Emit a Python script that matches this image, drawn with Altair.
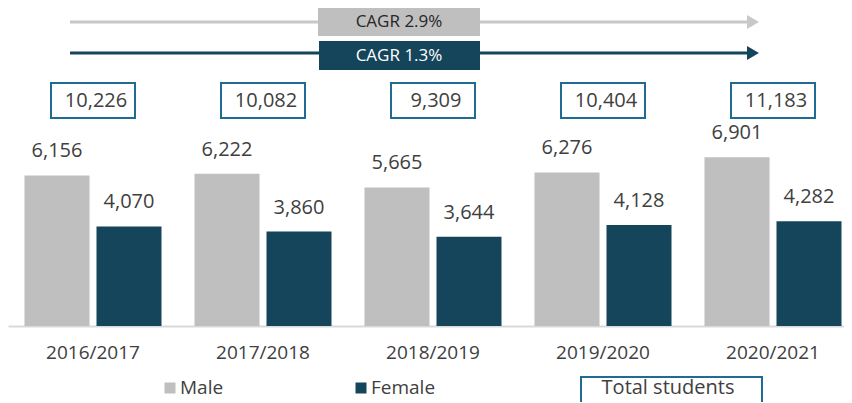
import altair as alt
import pandas as pd

years = ["2016/2017", "2017/2018", "2018/2019", "2019/2020", "2020/2021"]
male = [6156, 6222, 5665, 6276, 6901]
female = [4070, 3860, 3644, 4128, 4282]
total = [10226, 10082, 9309, 10404, 11183]
genders = ["Male", "Female"]
cagr_labels = ["CAGR 2.9%", "CAGR 1.3%"]
legend_labels = ["Male", "Female", "Total students"]

FONT = "Open Sans"
MALE_C = "#bfbfbf"
FEM_C = "#15455a"
BOX_C = "#1f6b94"
TXT = "#404040"
ARROW_GRAY = "#c8c8c8"

bars_df = pd.DataFrame({
    "year": years * 2,
    "gender": ["Male"] * len(years) + ["Female"] * len(years),
    "value": male + female,
})
tot_df = pd.DataFrame({"year": years, "total": total})

x_enc = alt.X(
    "year:N", sort=years,
    scale=alt.Scale(range=[0, 850], paddingInner=0.194, paddingOuter=0.097),
    axis=alt.Axis(title=None, labelAngle=0, ticks=False, labelPadding=17,
                  labelFontSize=19, labelFont=FONT, labelColor=TXT,
                  domainColor="#d9d9d9", domainWidth=2, grid=False),
)
xo = alt.XOffset("gender:N", sort=genders,
                 scale=alt.Scale(paddingInner=0.097, paddingOuter=0))
y_enc = alt.Y("value:Q", scale=alt.Scale(domain=[0, 13000], nice=False), axis=None)
col = alt.Color("gender:N", sort=genders,
                scale=alt.Scale(domain=genders, range=[MALE_C, FEM_C]), legend=None)

base = alt.Chart(bars_df)
bars = base.mark_bar().encode(x=x_enc, xOffset=xo, y=y_enc, color=col)
vlabels = base.mark_text(dy=-24, fontSize=20, font=FONT, color=TXT, baseline="middle").encode(
    x=x_enc, xOffset=xo, y=y_enc, text=alt.Text("value:Q", format=",")
)

tot_box = alt.Chart(tot_df).mark_bar(width=84, fill="white", stroke=BOX_C, strokeWidth=2).encode(
    x=x_enc, y=alt.value(75), y2=alt.value(110)
)
tot_text = alt.Chart(tot_df).mark_text(fontSize=20, font=FONT, color=TXT, dx=3, baseline="middle").encode(
    x=x_enc, y=alt.value(92.5), text=alt.Text("total:Q", format=",")
)

def one(label):
    return alt.Chart(pd.DataFrame({"label": [label]}))

# CAGR arrows
g = one(cagr_labels[0])
d = one(cagr_labels[1])
g_line = g.mark_rule(color=ARROW_GRAY, strokeWidth=3).encode(x=alt.value(62), x2=alt.value(742), y=alt.value(14))
g_head = g.mark_point(shape="triangle-right", filled=True, size=190, color=ARROW_GRAY, opacity=1).encode(
    x=alt.value(745), y=alt.value(14))
g_box = g.mark_rect(color=MALE_C).encode(x=alt.value(310), x2=alt.value(472), y=alt.value(0), y2=alt.value(28))
g_txt = g.mark_text(fontSize=17, font=FONT, color="#262626", baseline="middle").encode(
    x=alt.value(391), y=alt.value(14), text="label:N")

d_line = d.mark_rule(color=FEM_C, strokeWidth=3).encode(x=alt.value(62), x2=alt.value(742), y=alt.value(45))
d_head = d.mark_point(shape="triangle-right", filled=True, size=190, color=FEM_C, opacity=1).encode(
    x=alt.value(745), y=alt.value(45))
d_box = d.mark_rect(color=FEM_C).encode(x=alt.value(311), x2=alt.value(472), y=alt.value(33), y2=alt.value(62))
d_txt = d.mark_text(fontSize=17, font=FONT, color="white", baseline="middle").encode(
    x=alt.value(391), y=alt.value(47.5), text="label:N")

# Legend
lm = one(legend_labels[0])
lf = one(legend_labels[1])
lt = one(legend_labels[2])
lm_sq = lm.mark_square(size=121, filled=True, color=MALE_C, opacity=1).encode(x=alt.value(162), y=alt.value(380))
lm_tx = lm.mark_text(fontSize=19, font=FONT, color=TXT, align="left", baseline="middle").encode(
    x=alt.value(172), y=alt.value(380), text="label:N")
lf_sq = lf.mark_square(size=121, filled=True, color=FEM_C, opacity=1).encode(x=alt.value(353), y=alt.value(380))
lf_tx = lf.mark_text(fontSize=19, font=FONT, color=TXT, align="left", baseline="middle").encode(
    x=alt.value(363), y=alt.value(380), text="label:N")
lt_box = lt.mark_rect(fill="white", stroke=BOX_C, strokeWidth=2).encode(
    x=alt.value(573), x2=alt.value(754), y=alt.value(369), y2=alt.value(400))
lt_tx = lt.mark_text(fontSize=20, font=FONT, color=TXT, baseline="middle").encode(
    x=alt.value(660), y=alt.value(380), text="label:N")

chart = alt.layer(
    bars, vlabels, tot_box, tot_text,
    g_line, g_head, g_box, g_txt,
    d_line, d_head, d_box, d_txt,
    lm_sq, lm_tx, lf_sq, lf_tx, lt_box, lt_tx,
).properties(
    width=836, height=318,
    autosize=alt.AutoSizeParams(type="none"),
    padding={"left": 0, "top": 0, "right": 0, "bottom": 76},
    background="white",
).configure_view(stroke=None)

chart.save("out.html", embed_options={"renderer": "svg", "actions": False})
